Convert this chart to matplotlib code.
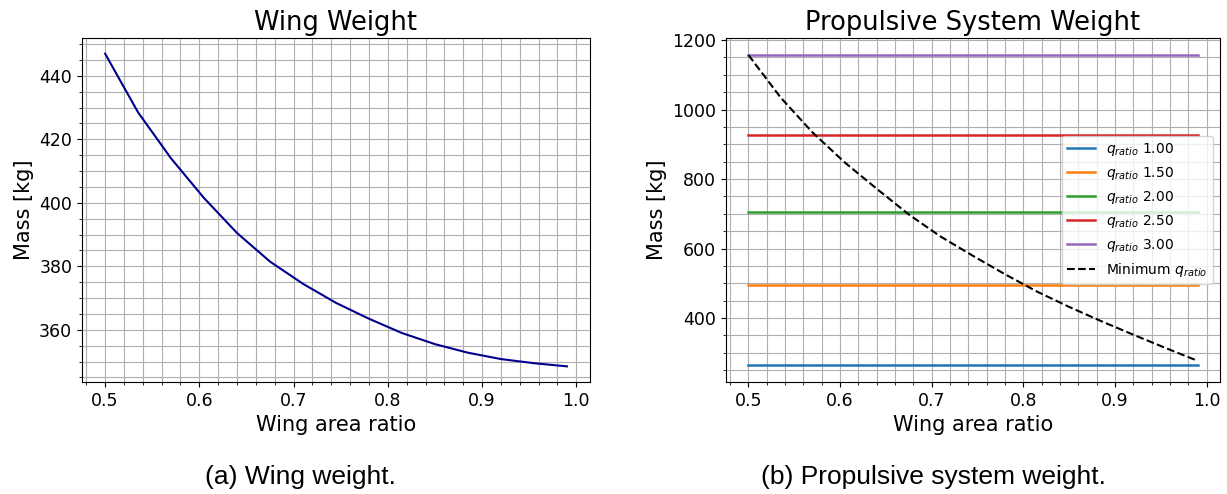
import numpy as np
import matplotlib
matplotlib.use("Agg")
import matplotlib.pyplot as plt

# wing area ratio samples
AREA_RATIO = np.linspace(0.5, 0.99, 15)

WING_MASS = [447.0, 428.5, 414.0, 401.5, 390.5, 381.5, 374.5, 368.5,
             363.5, 359.0, 355.5, 352.8, 350.8, 349.5, 348.5]

Q_RATIOS  = [1.00, 1.50, 2.00, 2.50, 3.00]
PROP_MASS = [266.0, 494.0, 706.0, 927.0, 1157.0]

MIN_Q_MASS = [1157.0, 1035.0, 934.0, 848.0, 772.0, 698.0, 634.0, 579.0,
              526.0, 476.0, 432.0, 391.0, 352.0, 314.0, 277.0]

COLORS = ["#1f77b4", "#ff7f0e", "#2ca02c", "#d62728", "#9467bd"]

fig = plt.figure(figsize=(12.27, 4.94), dpi=100)
ax1 = fig.add_axes([82 / 1227, 1 - 382 / 494, (590 - 82) / 1227, 344 / 494])
ax2 = fig.add_axes([726 / 1227, 1 - 382 / 494, (1220 - 726) / 1227, 344 / 494])

ax1.plot(AREA_RATIO, WING_MASS, color="darkblue", lw=1.5)
ax1.set_title("Wing Weight", fontsize=18.5)

for q, m, c in zip(Q_RATIOS, PROP_MASS, COLORS):
    ax2.plot(AREA_RATIO, np.full(len(AREA_RATIO), m), color=c, lw=1.8,
             label=rf"$q_{{ratio}}$ {q:.2f}")
ax2.plot(AREA_RATIO, MIN_Q_MASS, "k--", lw=1.5, label=r"Minimum $q_{ratio}$")
ax2.set_title("Propulsive System Weight", fontsize=18.5)
ax2.set_ylim(216, 1206)
ax2.set_yticks([400, 600, 800, 1000, 1200])
ax2.legend(loc="center right", fontsize=10)

for ax in (ax1, ax2):
    ax.set_xlabel("Wing area ratio", fontsize=15)
    ax.set_ylabel("Mass [kg]", fontsize=15)
    ax.tick_params(labelsize=12.5)
    ax.minorticks_on()
    ax.grid(which="both", color="#b0b0b0", lw=0.8)
    ax.set_axisbelow(True)

fig.text(300 / 1227, 1 - 477 / 494, "(a) Wing weight.", ha="center", va="center",
         fontsize=19, family="Liberation Sans")
fig.text(933 / 1227, 1 - 477 / 494, "(b) Propulsive system weight.", ha="center",
         va="center", fontsize=19, family="Liberation Sans")

fig.savefig("out.png", dpi=100)
